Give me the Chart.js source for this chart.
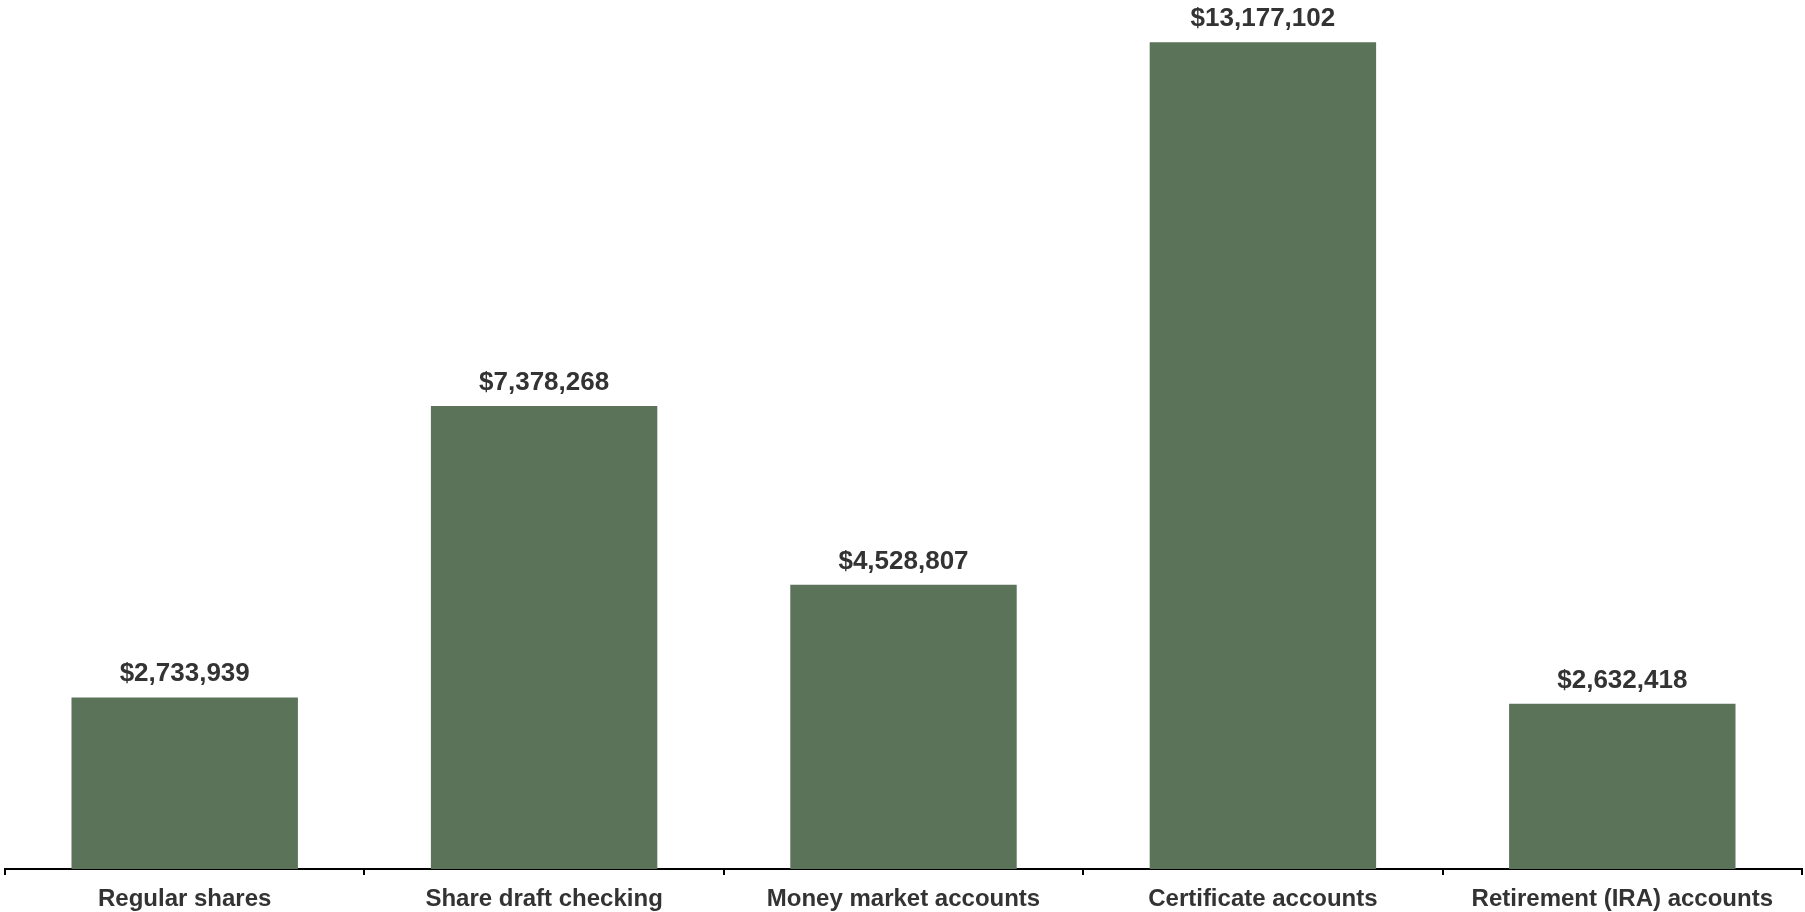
<!DOCTYPE html>
<html>
<head>
<meta charset="utf-8">
<title>Deposit balances by account type</title>
<script src="https://cdn.jsdelivr.net/npm/chart.js@4/dist/chart.umd.min.js"></script>
<style>
    html, body { margin: 0; padding: 0; background: #fff; }
    #chart_wrap { width: 1805px; height: 912px; }
</style>
</head>
<body>
<div id="chart_wrap"><canvas id="balances_chart" width="1805" height="912"></canvas></div>
<script>
const account_types = ['Regular shares', 'Share draft checking', 'Money market accounts',
    'Certificate accounts', 'Retirement (IRA) accounts'];
const balances = [2733939, 7378268, 4528807, 13177102, 2632418];
const y_max = 13850000;

const bar_color = '#5a7359';
const text_color = '#333333';

function format_dollars(value) {
    return '$' + value.toLocaleString('en-US');
}

// writes the dollar amount above every bar
const value_labels_plugin = {
    id: 'value_labels',
    afterDatasetsDraw: (chart) => {
        const ctx = chart.ctx;
        const meta = chart.getDatasetMeta(0);
        ctx.save();
        ctx.font = 'bold 26px "Liberation Sans", Arial, sans-serif';
        ctx.fillStyle = text_color;
        ctx.textAlign = 'center';
        ctx.textBaseline = 'alphabetic';
        meta.data.forEach(function (bar, i) {
            ctx.fillText(format_dollars(balances[i]), bar.x, bar.y - 16);
        });
        ctx.restore();
    }
};

const ctx = document.getElementById('balances_chart').getContext('2d');
new Chart(ctx, {
    type: 'bar',
    data: {
        labels: account_types,
        datasets: [{
            data: balances,
            backgroundColor: bar_color,
            borderWidth: 0,
            categoryPercentage: 1.0,
            barPercentage: 0.63
        }]
    },
    options: {
        animation: false,
        responsive: false,
        events: [],
        layout: {
            padding: { top: 0, left: 5, right: 3, bottom: 0 }
        },
        plugins: {
            legend: { display: false },
            tooltip: { enabled: false },
            title: { display: false }
        },
        scales: {
            x: {
                afterFit: function (scale) {
                    scale.height = 43;
                },
                grid: {
                    display: true,
                    offset: true,
                    drawOnChartArea: false,
                    drawTicks: true,
                    tickLength: 6,
                    color: '#000',
                    lineWidth: 2
                },
                border: { display: true, color: '#000', width: 2 },
                ticks: {
                    color: text_color,
                    padding: 10,
                    maxRotation: 0,
                    autoSkip: false,
                    font: { family: '"Liberation Sans", Arial, sans-serif', size: 24, weight: 'bold' }
                }
            },
            y: {
                display: false,
                min: 0,
                max: y_max
            }
        }
    },
    plugins: [value_labels_plugin]
});
</script>
</body>
</html>
